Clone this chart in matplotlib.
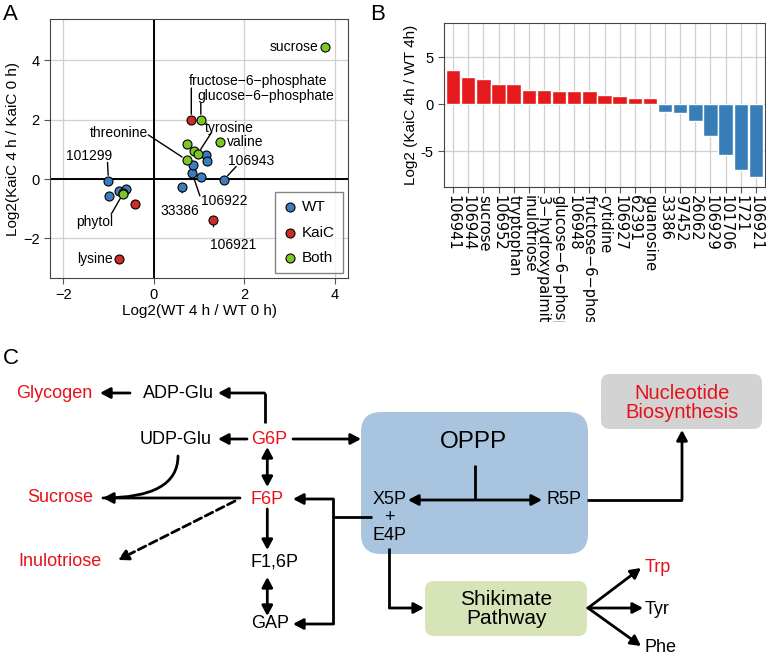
import numpy as np
import matplotlib
matplotlib.use("Agg")
import matplotlib.pyplot as plt
from matplotlib.patches import FancyBboxPatch

plt.rcParams['font.family'] = ['Liberation Sans', 'DejaVu Sans']
plt.rcParams['axes.unicode_minus'] = True

# ---------------- data: panel A (scatter) ----------------
wt_x = [-1.00, -0.98, -0.76, -0.61, -0.67, 0.62, 0.85, 0.86, 1.04, 1.15, 1.18, 1.55]
wt_y = [-0.06, -0.57, -0.40, -0.35, -0.46, -0.26, 0.20, 0.48, 0.06, 0.82, 0.62, -0.02]
wt_names = ['101299', '', '', '', '', '33386', '106922', '', '', '', '', '106943']

kaic_x = [0.83, -0.42, 1.32, -0.76]
kaic_y = [2.00, -0.84, -1.39, -2.69]
kaic_names = ['fructose\u22126\u2212phosphate', '', '106921', 'lysine']

both_x = [3.79, 1.04, 1.47, 0.74, 0.89, 0.97, 0.73, -0.68]
both_y = [4.45, 2.00, 1.24, 1.19, 0.96, 0.84, 0.64, -0.50]
both_names = ['sucrose', 'glucose\u22126\u2212phosphate', 'valine', '', '', 'tyrosine',
              'threonine', 'phytol']

# label layout: text x, text y, alignment, leader line start (or None)
label_pos = {
    'sucrose': (3.63, 4.46, 'right', None),
    'fructose\u22126\u2212phosphate': (0.78, 3.32, 'left', (0.83, 3.07)),
    'glucose\u22126\u2212phosphate': (0.96, 2.81, 'left', (1.04, 2.57)),
    'threonine': (-0.13, 1.56, 'right', (-0.12, 1.49)),
    'tyrosine': (1.13, 1.73, 'left', (1.28, 1.58)),
    'valine': (1.61, 1.24, 'left', None),
    '101299': (-1.43, 0.79, 'center', (-1.02, 0.56)),
    '106943': (1.64, 0.61, 'left', (1.82, 0.42)),
    '106922': (1.04, -0.75, 'left', (1.02, -0.57)),
    '33386': (0.58, -1.09, 'center', (0.625, -0.46)),
    'phytol': (-1.30, -1.46, 'center', (-0.94, -1.19)),
    '106921': (1.24, -2.23, 'left', (1.32, -1.61)),
    'lysine': (-0.90, -2.69, 'right', None),
}

# ---------------- data: panel B (bars) ----------------
bar_names = ['106941', '106944', 'sucrose', '106952', 'tryptophan', 'inulotriose',
             '3\u2212hydroxypalmitic acid', 'glucose\u22126\u2212phosphate', '106948',
             'fructose\u22126\u2212phosphate', 'cytidine', '106927', '62391', 'guanosine',
             '33386', '97452', '26062', '106929', '101706', '1721', '106921']
bar_values = [3.65, 2.94, 2.66, 2.23, 2.13, 1.52, 1.49, 1.45, 1.45, 1.42, 1.06, 0.89,
              0.74, 0.64, -0.85, -0.96, -1.81, -3.40, -5.43, -6.95, -7.70]

c_wt = '#3b7dbf'
c_kaic = '#d02a27'
c_both = '#7cc62a'

fig = plt.figure(figsize=(7.66, 6.6), dpi=100)
W, H = 766.0, 660.0

# ---------------- panel A ----------------
axA = fig.add_axes([50 / W, 1 - 278 / H, 298 / W, 259 / H])
axA.set_xlim(-2.29, 4.29)
axA.set_ylim(-3.34, 5.4)
axA.set_xticks([-2, 0, 2, 4])
axA.set_yticks([-2, 0, 2, 4])
axA.grid(True, color='#cfcfcf', lw=0.9)
axA.set_axisbelow(True)
axA.axhline(0, color='black', lw=1.4, zorder=1)
axA.axvline(0, color='black', lw=1.4, zorder=1)
for s in axA.spines.values():
    s.set_color('#444444')
axA.tick_params(direction='out', length=4, color='#555555', labelsize=10.5)

series = [(wt_x, wt_y, wt_names, c_wt, 'WT'),
          (kaic_x, kaic_y, kaic_names, c_kaic, 'KaiC'),
          (both_x, both_y, both_names, c_both, 'Both')]
for xs, ys, names, col, lab in series:
    axA.scatter(xs, ys, s=42, color=col, edgecolor='black', linewidth=0.8, zorder=3, label=lab)
    for x, y, n in zip(xs, ys, names):
        if not n:
            continue
        tx, ty, ha, start = label_pos[n]
        axA.text(tx, ty, n, ha=ha, va='center', fontsize=10)
        if start is not None:
            axA.annotate('', xy=(x, y), xytext=start,
                         arrowprops=dict(arrowstyle='-', color='black', lw=1,
                                         shrinkA=0, shrinkB=4))

axA.set_xlabel('Log2(WT 4 h / WT 0 h)', fontsize=11, labelpad=1)
axA.set_ylabel('Log2(KaiC 4 h / KaiC 0 h)', fontsize=11, labelpad=2)
leg = axA.legend(loc='lower right', fontsize=11, frameon=True, fancybox=False,
                 edgecolor='#666666', handletextpad=0.3, handlelength=1.0,
                 labelspacing=0.75, borderpad=0.5, borderaxespad=0.35)
leg.get_frame().set_linewidth(1)

# ---------------- panel B ----------------
axB = fig.add_axes([444 / W, 1 - 186.7 / H, 321 / W, 164 / H])
pos = np.arange(len(bar_values))
bar_cols = [c_kaic if v > 0 else c_wt for v in bar_values]
bar_cols = ['#e41a1c' if v > 0 else '#377eb8' for v in bar_values]
axB.bar(pos, bar_values, width=0.95, color=bar_cols, edgecolor='white', linewidth=1, zorder=3)
axB.set_xlim(-0.6, 20.6)
axB.set_ylim(-8.75, 8.7)
axB.set_xticks(pos)
axB.set_xticklabels(bar_names, rotation=-90, fontsize=7.8, family='DejaVu Sans', va='top')
axB.set_yticks([-5, 0, 5])
axB.set_yticklabels(['-5', '0', '5'])
axB.grid(True, color='#cfcfcf', lw=0.9)
axB.set_axisbelow(True)
for s in axB.spines.values():
    s.set_color('#444444')
axB.tick_params(direction='out', length=4, color='#555555', labelsize=10.5)
axB.tick_params(axis='x', pad=2)
axB.set_ylabel('Log2 (KaiC 4h / WT 4h)', fontsize=11, labelpad=2)

fig.text(3 / W, 1 - 4 / H, 'A', fontsize=16, va='top', ha='left')
fig.text(370 / W, 1 - 4 / H, 'B', fontsize=16, va='top', ha='left')

# ---------------- panel C (pathway diagram, pixel coordinates) ----------------
axC = fig.add_axes([0, 0, 1, 338 / H], zorder=10)
axC.set_xlim(0, W)
axC.set_ylim(H, 322)
axC.set_xticks([])
axC.set_yticks([])
for s in axC.spines.values():
    s.set_visible(False)
axC.set_facecolor('white')

axC.text(3, 358, 'C', fontsize=16, va='center', ha='left')

boxes = [(361, 412, 227, 142, 20, '#a9c4df'),
         (601, 374, 161, 55, 9, '#d3d3d3'),
         (425, 581, 162, 55, 9, '#d6e4b8')]
for x, y, w, h, r, col in boxes:
    axC.add_patch(FancyBboxPatch((x, y), w, h, boxstyle='round,pad=0,rounding_size=%d' % r,
                                 facecolor=col, edgecolor='none', zorder=1))

red = '#e8101a'
nodes = [('Glycogen', 54, 393, red, 'center'),
         ('ADP-Glu', 178, 393, 'black', 'center'),
         ('UDP-Glu', 176, 439, 'black', 'center'),
         ('G6P', 269, 439, red, 'center'),
         ('Sucrose', 60, 498, red, 'center'),
         ('F6P', 267, 500, red, 'center'),
         ('Inulotriose', 60, 562, red, 'center'),
         ('F1,6P', 275, 562, 'black', 'center'),
         ('GAP', 270, 624, 'black', 'center'),
         ('X5P', 389.5, 500, 'black', 'center'),
         ('+', 389.5, 518, 'black', 'center'),
         ('E4P', 389.5, 535, 'black', 'center'),
         ('R5P', 563.5, 500, 'black', 'center'),
         ('Trp', 645, 568, red, 'left'),
         ('Tyr', 645, 610, 'black', 'left'),
         ('Phe', 645, 647, 'black', 'left')]
for name, x, y, col, ha in nodes:
    axC.text(x, y, name, color=col, fontsize=13, ha=ha, va='center', zorder=3)

axC.text(473, 442, 'OPPP', fontsize=17.5, ha='center', va='center', zorder=3)
axC.text(682, 403, 'Nucleotide\nBiosynthesis', color=red, fontsize=14.5, ha='center',
         va='center', linespacing=1.05, zorder=3)
axC.text(506, 609, 'Shikimate\nPathway', fontsize=15, ha='center', va='center',
         linespacing=1.0, zorder=3)

LW = 2.0
HEAD = '-|>,head_length=0.6,head_width=0.32'
BOTH = '<|-|>,head_length=0.6,head_width=0.32'


def arrow(pts, style=HEAD, ls='-'):
    pts = list(pts)
    for (x0, y0), (x1, y1) in zip(pts[:-2], pts[1:-1]):
        axC.plot([x0, x1], [y0, y1], color='black', lw=LW, solid_capstyle='butt', zorder=4)
    axC.annotate('', xy=pts[-1], xytext=pts[-2],
                 arrowprops=dict(arrowstyle=style, color='black', lw=LW, linestyle=ls,
                                 shrinkA=0, shrinkB=0, mutation_scale=10), zorder=4)


def line(pts):
    xs, ys = zip(*pts)
    axC.plot(xs, ys, color='black', lw=LW, solid_capstyle='butt', zorder=4)


arrow([(130, 393), (100, 393)])
arrow([(264.5, 423), (264.5, 393), (218, 393)])
arrow([(247, 439), (218, 439)])
arrow([(293, 439), (361, 439)])
arrow([(267.3, 447), (267.3, 487)], BOTH)
axC.annotate('', xy=(103, 498), xytext=(178, 456),
             arrowprops=dict(arrowstyle='-', color='black', lw=LW, shrinkA=0, shrinkB=0,
                             connectionstyle='angle3,angleA=90,angleB=0'), zorder=4)
arrow([(240, 498), (103, 498)])
arrow([(235, 501), (118, 560)], ls=(0, (3, 1.5)))
arrow([(267.3, 509), (267.3, 550)])
arrow([(267.3, 577), (267.3, 616)], BOTH)
line([(332.7, 499), (332.7, 624)])
arrow([(333.5, 499), (293, 499)])
arrow([(333.5, 624), (293, 624)])
line([(332.7, 517), (372, 517)])
arrow([(408, 500), (542, 500)], BOTH)
line([(475, 465), (475, 500)])
arrow([(587, 500), (682, 500), (682, 430)])
arrow([(389.3, 548), (389.3, 608), (424, 608)])
arrow([(588, 608), (641, 568)])
arrow([(588, 608), (643, 608)])
arrow([(588, 608), (641, 646)])

fig.savefig('out.png', dpi=100)
